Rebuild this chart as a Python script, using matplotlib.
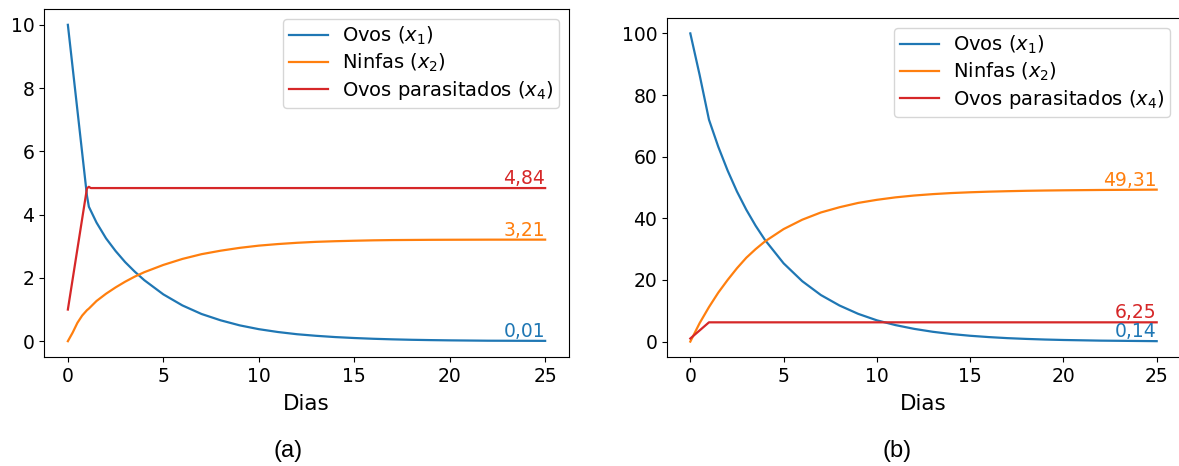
import matplotlib
matplotlib.use("Agg")
import matplotlib.pyplot as plt

# ---- Panel (a): initial population of 10 eggs ----
dias_a = [0, 0.25, 0.5, 0.75, 1.0, 1.1, 1.5, 2, 2.5, 3, 3.5, 4, 5, 6, 7, 8, 9,
          10, 11, 12, 13, 14, 15, 16, 17, 18, 19, 20, 22, 25]
ovos_a = [10.0, 8.65, 7.3, 5.95, 4.6, 4.25, 3.75, 3.25, 2.85, 2.5, 2.2, 1.93,
          1.48, 1.13, 0.86, 0.66, 0.50, 0.38, 0.29, 0.22, 0.17, 0.13, 0.10,
          0.076, 0.058, 0.044, 0.034, 0.026, 0.015, 0.01]
ninfas_a = [0.0, 0.27, 0.58, 0.81, 0.98, 1.03, 1.27, 1.5, 1.7, 1.88, 2.04, 2.18,
            2.41, 2.6, 2.75, 2.86, 2.95, 3.02, 3.07, 3.11, 3.14, 3.16, 3.175,
            3.188, 3.196, 3.2, 3.204, 3.206, 3.209, 3.21]
dias_par_a = [0, 1.0, 1.1, 1.2, 25]
parasitados_a = [1.0, 4.83, 4.88, 4.84, 4.84]

# ---- Panel (b): initial population of 100 eggs ----
dias_b = [0, 0.5, 1.0, 1.5, 2, 2.5, 3, 3.5, 4, 5, 6, 7, 8, 9, 10, 11, 12, 13,
          14, 15, 16, 17, 18, 19, 20, 22, 25]
ovos_b = [100.0, 86.5, 72.0, 63.2, 55.5, 48.7, 42.8, 37.6, 33.0, 25.4, 19.6,
          15.1, 11.7, 9.0, 6.9, 5.35, 4.13, 3.18, 2.45, 1.89, 1.46, 1.12, 0.87,
          0.67, 0.52, 0.31, 0.14]
ninfas_b = [0.0, 6.0, 11.2, 15.9, 20.0, 23.8, 27.2, 30.0, 32.5, 36.5, 39.55,
            41.9, 43.6, 45.0, 46.0, 46.8, 47.4, 47.85, 48.2, 48.45, 48.65, 48.8,
            48.93, 49.02, 49.09, 49.2, 49.31]
dias_par_b = [0, 1.0, 25]
parasitados_b = [1.0, 6.25, 6.25]

labels = [r"Ovos ($x_1$)", r"Ninfas ($x_2$)", r"Ovos parasitados ($x_4$)"]
colors = ["#1f77b4", "#ff7f0e", "#d62728"]
paineis = ["(a)", "(b)"]

fig = plt.figure(figsize=(11.79, 4.66), dpi=100)
ax_a = fig.add_axes([44 / 1179, 109 / 466, 525 / 1179, 348 / 466])
ax_b = fig.add_axes([667 / 1179, 109 / 466, 513 / 1179, 339 / 466])

tick_fs = 13.5
legend_fs = 14
label_fs = 15.5
annot_fs = 13.5


def draw_panel(ax, t, ovos, ninfas, t_par, par, fmt_vals):
    ax.plot(t, ovos, color=colors[0], lw=1.6, label=labels[0])
    ax.plot(t, ninfas, color=colors[1], lw=1.6, label=labels[1])
    ax.plot(t_par, par, color=colors[2], lw=1.6, label=labels[2])
    for xs, ys, c, txt in zip([t, t, t_par], [ovos, ninfas, par], colors, fmt_vals):
        ax.text(xs[-1], ys[-1], txt, color=c, fontsize=annot_fs,
                ha="right", va="bottom")
    ax.set_xticks([0, 5, 10, 15, 20, 25])
    ax.tick_params(labelsize=tick_fs)
    ax.set_xlabel("Dias", fontsize=label_fs, labelpad=6)
    ax.legend(loc="upper right", fontsize=legend_fs, labelspacing=0.25,
              borderpad=0.3, borderaxespad=0.5, handletextpad=0.7)


draw_panel(ax_a, dias_a, ovos_a, ninfas_a, dias_par_a, parasitados_a,
           ["0,01", "3,21", "4,84"])
draw_panel(ax_b, dias_b, ovos_b, ninfas_b, dias_par_b, parasitados_b,
           ["0,14", "49,31", "6,25"])

fig.text(288 / 1179, 1 - 451 / 466, paineis[0], ha="center", va="center",
         fontsize=17, family="Liberation Sans")
fig.text(897 / 1179, 1 - 451 / 466, paineis[1], ha="center", va="center",
         fontsize=17, family="Liberation Sans")

fig.savefig("out.png", dpi=100)
